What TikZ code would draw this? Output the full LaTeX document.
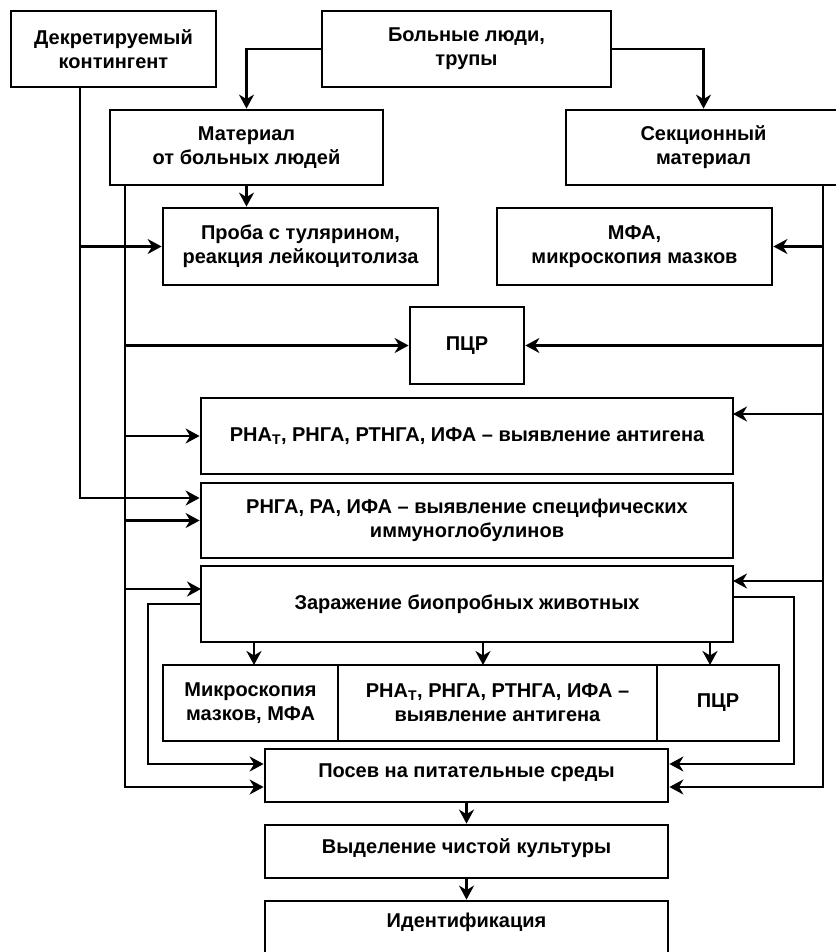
\documentclass[tikz,border=0pt]{standalone}
\usepackage{fontspec}
\setmainfont{Liberation Sans}
\usetikzlibrary{arrows.meta,calc}
\begin{document}
\begin{tikzpicture}[x=1pt,y=-1pt,
  box/.style={draw, line width=2.8pt, inner sep=0pt, align=center,
    font=\fontsize{20}{24}\selectfont\bfseries},
  txt/.style={inner sep=0pt, align=center, font=\fontsize{20}{24}\selectfont\bfseries},
  arr/.style={line width=2.8pt, -{Stealth[length=14pt,width=15pt,inset=4.5pt]}},
  ln/.style={line width=2.8pt}]
\useasboundingbox (0,0) rectangle (835,952);

% boxes
\node[box, minimum width=205, minimum height=76] (dek) at (113.5,49) {Декретируемый\\контингент};
\node[box, minimum width=289, minimum height=76] (bol) at (466.5,49) {Больные люди,\\трупы};
\node[box, minimum width=273, minimum height=75] (mat) at (246.5,147.5) {Материал\\от больных людей};
\node[box, minimum width=275, minimum height=75] (sek) at (703.5,147.5) {Секционный\\материал};
\node[box, minimum width=275, minimum height=77] (pro) at (300.5,246.5) {Проба с тулярином,\\реакция лейкоцитолиза};
\node[box, minimum width=275, minimum height=77] (mfa) at (634.5,246.5) {МФА,\\микроскопия мазков};
\node[box, minimum width=114, minimum height=77] (pcr) at (467,345.5) {ПЦР};
\node[box, minimum width=532, minimum height=76] (rna) at (467,436) {РНА\textsubscript{Т}, РНГА, РТНГА, ИФА – выявление антигена};
\node[box, minimum width=532, minimum height=75] (rnga) at (467,520.5) {РНГА, РА, ИФА – выявление специфических\\иммуноглобулинов};
\node[box, minimum width=532, minimum height=76] (zar) at (467,604) {Заражение биопробных животных};
\node[box, minimum width=175, minimum height=76] (mik) at (250.5,703) {Микроскопия\\мазков, МФА};
\node[box, minimum width=319, minimum height=76] (rna2) at (497.5,703) {РНА\textsubscript{Т}, РНГА, РТНГА, ИФА –\\выявление антигена};
\node[box, minimum width=122, minimum height=76] (pcr2) at (718,703) {ПЦР};
\node[box, minimum width=403, minimum height=53, text depth=10pt] (pos) at (466.5,775.5) {Посев на питательные среды};
\node[box, minimum width=403, minimum height=53, text depth=10pt] (vyd) at (466.5,851.5) {Выделение чистой культуры};
\node[box, minimum width=403, minimum height=80] (ide) at (466.5,941) {};
\node[txt] (idet) at (466.5,922) {Идентификация};

% helper coordinates
\coordinate (dk) at (80,498);
\coordinate (mk) at (125,787);
\coordinate (sk) at (823,787);
\coordinate (zlk) at (148,764);
\coordinate (zrk) at (794,764);
\coordinate (zin) at (201,589);
\coordinate (zout) at (201,604);
\coordinate (rin) at (733,414);
\coordinate (zrin) at (733,581);
\coordinate (zrout) at (733,597);
\coordinate (a1) at (254,665);
\coordinate (a2) at (483,665);
\coordinate (a3) at (710,665);

% top connectors
\draw[arr] (bol.west) -| (mat.north);
\draw[arr] (bol.east) -| (sek.north);
\draw[arr] (mat.south) -- (mat.south |- pro.north);

% Декретируемый line
\draw[arr] (dek.south -| dk) |- (rnga.west |- dk);
\draw[arr] (pro.west -| dk) -- (pro.west);

% Материал line
\draw[arr] (mat.south -| mk) |- (pos.west |- mk);
\draw[arr] (pcr.west -| mk) -- (pcr.west);
\draw[arr] (rna.west -| mk) -- (rna.west);
\draw[arr] (rnga.west -| mk) -- (rnga.west);
\draw[arr] (zin -| mk) -- (zin);

% Секционный line
\draw[arr] (sek.south -| sk) |- (pos.east |- sk);
\draw[arr] (mfa.east -| sk) -- (mfa.east);
\draw[arr] (pcr.east -| sk) -- (pcr.east);
\draw[arr] (rin -| sk) -- (rin);
\draw[arr] (zrin -| sk) -- (zrin);

% Заражение loops
\draw[arr] (zout) -| (zlk) -- (pos.west |- zlk);
\draw[arr] (zrout) -| (zrk) -- (pos.east |- zrk);

% Заражение down arrows
\draw[arr] (zar.south -| a1) -- (a1);
\draw[arr] (zar.south -| a2) -- (a2);
\draw[arr] (zar.south -| a3) -- (a3);

% bottom chain
\draw[arr] (pos.south) -- (vyd.north);
\draw[arr] (vyd.south) -- (ide.north);
\end{tikzpicture}
\end{document}
